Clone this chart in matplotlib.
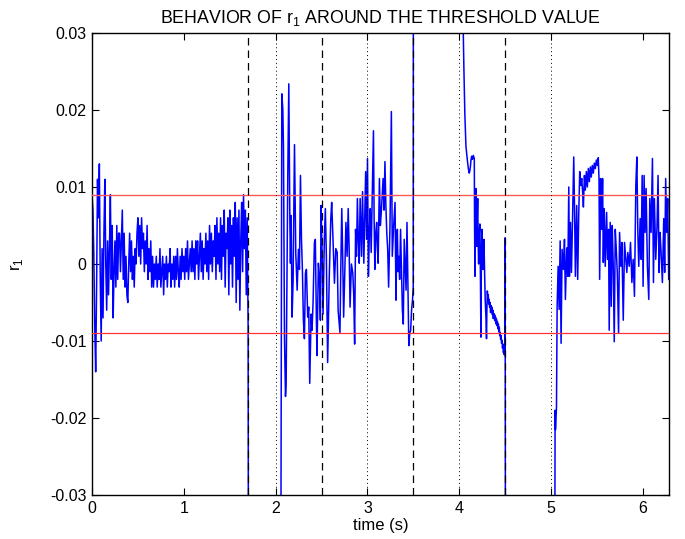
import numpy as np
import matplotlib
matplotlib.use("Agg")
import matplotlib.pyplot as plt

# ---------------- data (r1 values in units of 1e-3) ----------------
# segment A: 0 .. 1.70 s, sampled every 0.01 s
t_a = np.round(np.arange(0.0, 1.701, 0.01), 3).tolist() + [1.705]
r_a = [9, 7, 1, -8, -14, -3, 11, 6, 13, -2,
       -10, 2, -7, 4, 11, 0, -6, 3, -4, 2,
       9, -2, 5, -7, -1, 3, -3, 5, -2, 4,
       4, -1, 3, 7, -2, 4, -3, 1, -4, -5,
       0, 4, -1, 3, -2, 1, -3, 2, 0, 4,
       6, 1, 5, 0, 6, 2, 4, -1, 3, 0,
       5, -2, 2, -1, 3, -3, 1, -3, 0, -2,
       1, -3, 0, -2, 2, -3, -1, 1, -4, 0,
       -2, 1, -3, 0, -1, 2, -3, 0, -2, 1,
       -3, 1, -2, 2, -1, -3, 1, -2, 2, -1,
       1, -2, 2, -1, 3, -2, 0, 2, -1, 3,
       -1, 2, -2, 3, 0, 3, -2, 1, 4, -1,
       3, -2, 2, 0, 4, -1, 3, -2, 5, 0,
       4, -1, 3, 1, 5, -2, 6, 0, 4, -1,
       6, -2, 5, 1, 7, -3, 4, 2, 6, -4,
       7, 0, 5, -3, 6, 1, 8, -5, 6, -2,
       7, -6, 3, 8, -1, 9, 2, 7, -4, 6,
       -8, -60]

# segment B: 2.05 .. 3.50 s
t_b = [2.053, 2.067, 2.078, 2.085, 2.096, 2.107, 2.114, 2.132, 2.143, 2.154,
       2.161, 2.168, 2.179, 2.19, 2.205, 2.219, 2.234, 2.248, 2.259, 2.27,
       2.281, 2.291, 2.302, 2.313, 2.324, 2.335, 2.349, 2.36, 2.371, 2.386,
       2.396, 2.407, 2.422, 2.432, 2.443, 2.45, 2.465, 2.476, 2.487, 2.494,
       2.505, 2.516, 2.53, 2.541, 2.552, 2.566, 2.583, 2.60, 2.61, 2.625,
       2.64, 2.655, 2.67, 2.68, 2.70, 2.71, 2.72, 2.73, 2.74, 2.753,
       2.765, 2.778, 2.79, 2.80, 2.81, 2.825, 2.84, 2.85, 2.86, 2.87,
       2.88, 2.89, 2.90, 2.91, 2.92, 2.935, 2.946, 2.955, 2.96, 2.97,
       2.98, 2.99, 3.0, 3.01, 3.02, 3.03, 3.04, 3.05, 3.065, 3.072,
       3.08, 3.09, 3.10, 3.108, 3.116, 3.123, 3.13, 3.14, 3.15, 3.16,
       3.17, 3.18, 3.19, 3.20, 3.21, 3.22, 3.23, 3.245, 3.26, 3.27,
       3.285, 3.30, 3.31, 3.318, 3.325, 3.333, 3.34, 3.35, 3.36, 3.37,
       3.38, 3.39, 3.40, 3.41, 3.42, 3.43, 3.44, 3.45, 3.46, 3.47,
       3.48, 3.49, 3.498, 3.50]
r_b = [-60, 22.1, 20.1, 15.1, -9.5, -17.2, -15.5, 11.5, 23.4, 6.3,
       0.1, 6.3, -6.9, -2.1, 15.5, 1.4, -3.4, 1.9, -0.7, 11.5,
       3.2, -0.7, -7.3, -9.7, -1.2, -0.7, -6.9, -5.6, -15.5, -6.5,
       -8.6, -5.1, 2.8, 3.2, -6.9, -11.9, 0.1, -1.6, -7.3, 7.6,
       1.9, -6.5, 3.2, 7.2, 1.0, -12.8, -2, 5.8, 8.0, 3,
       -2.5, 2, 1.5, -6, -8.9, 0, 7.2, 1, -6.9, -1,
       5.4, 1, 7.2, 2, -5.6, 0, -1.2, -4, -10.4, 4.5,
       1, 8.5, 3, 0.1, 8.5, 1, 9.4, 3, 0.1, 6,
       12, 3.2, 13.7, -1.6, 4, 7.2, 1.5, 8, 17.3, 6,
       -0.7, 4, 5.4, 2, 0.1, 6, 11.1, 5, 6.7, 9,
       11.1, 7, 13.3, 7.6, 4, 1.9, -3, 5, 19.8, 1,
       5, 8, -4.7, 2, 4.5, -1, 1, -2, 4.5, -1,
       -6, -7.8, 3.2, 0, -3.4, 5.4, -3, -10.6, -9, -8.6,
       -6, -4.7, -3, 60]

# segment C: 4.04 .. 4.50 s
t_c = [4.035, 4.043, 4.05, 4.06, 4.072, 4.083, 4.09, 4.098, 4.108, 4.114,
       4.12, 4.127, 4.134, 4.143, 4.152, 4.163, 4.166, 4.17, 4.175, 4.18,
       4.186, 4.19, 4.195, 4.20, 4.205, 4.21, 4.217, 4.224, 4.23, 4.235,
       4.24, 4.246, 4.252, 4.257, 4.262, 4.268, 4.275, 4.282, 4.29, 4.296,
       4.30, 4.305, 4.31, 4.315, 4.32, 4.325, 4.33, 4.335, 4.34, 4.345,
       4.35, 4.355, 4.36, 4.365, 4.37, 4.375, 4.38, 4.385, 4.39, 4.395,
       4.40, 4.405, 4.41, 4.415, 4.42, 4.425, 4.43, 4.435, 4.44, 4.445,
       4.45, 4.455, 4.46, 4.465, 4.47, 4.475, 4.48, 4.485, 4.49, 4.495,
       4.499, 4.503]
r_c = [60, 30, 25.2, 19.5, 15.3, 14.0, 13.2, 12.4, 11.8, 12.1,
       12.6, 13.5, 14.0, 13.6, 14.1, 13.7, 5, -1.6, 4, 9.8,
       6, 2.3, 6, 8.5, 3, 0.0, 4, 5.2, -2, -9.5,
       0, 4.5, 1, -0.7, 2, 3.2, -1, -4.7, -7, -9.7,
       -6, -3.5, -4.3, -4.0, -5.2, -4.6, -5.6, -5.0, -6.3, -5.4,
       -6.1, -5.6, -6.6, -6.0, -7.1, -6.4, -7.0, -6.6, -7.4, -6.9,
       -7.8, -7.2, -8.0, -7.5, -8.4, -7.8, -8.8, -8.2, -9.3, -8.9,
       -9.8, -9.3, -10.3, -9.9, -10.9, -10.4, -11.5, -11.0, -11.8, -10,
       3.4, -60]

# segment D: 5.04 .. 2*pi s
t_d = [5.036, 5.043, 5.047, 5.058, 5.065, 5.076, 5.087, 5.098, 5.108, 5.119,
       5.134, 5.145, 5.155, 5.17, 5.181, 5.192, 5.199, 5.21, 5.221, 5.235,
       5.246, 5.257, 5.264, 5.278, 5.289, 5.30, 5.311, 5.322, 5.333, 5.343,
       5.351, 5.362, 5.372, 5.383, 5.394, 5.405, 5.416, 5.427, 5.437, 5.448,
       5.459, 5.47, 5.481, 5.492, 5.503, 5.513, 5.521, 5.528, 5.539, 5.55,
       5.56, 5.568, 5.578, 5.589, 5.604, 5.614, 5.625, 5.632, 5.643, 5.654,
       5.665, 5.676, 5.687, 5.698, 5.709, 5.72, 5.734, 5.745, 5.759, 5.77,
       5.785, 5.799, 5.813, 5.824, 5.835, 5.85, 5.864, 5.879, 5.893, 5.907,
       5.922, 5.933, 5.944, 5.954, 5.969, 5.98, 5.991, 6.001, 6.012, 6.023,
       6.034, 6.048, 6.063, 6.074, 6.088, 6.103, 6.114, 6.124, 6.139, 6.153,
       6.164, 6.175, 6.186, 6.197, 6.211, 6.226, 6.236, 6.247, 6.258, 6.269,
       6.28]
r_d = [-60, -19.0, -21.5, -18.6, -5.5, -0.3, -5.9, 3.0, -10.3, 1.9,
       -0.7, 3.2, -4.6, 2.1, -1.6, 10.0, -1.6, 5.4, -1.1, 7.2,
       13.9, 5.0, -1.6, 7.6, -2.0, 6.3, 12.0, 10.2, 11.1, 9.3,
       7.4, 11.5, 9.6, 12.0, 10.0, 12.4, 10.7, 12.6, 11.3, 12.8,
       11.8, 13.1, 12.4, 13.5, 12.8, 13.8, 11.1, -2.0, 11.1, 4.5,
       11.1, 0.2, 7.2, -0.3, 6.7, 0.6, 4.5, -8.6, 5.4, -5.5,
       5.0, -0.3, -10.1, 4.5, 1.9, -1.1, -9.0, 4.1, -0.3, 2.8,
       -7.3, 2.8, 0.6, -1.1, 1.5, -0.3, 2.8, -2.4, 0.6, -4.2,
       10.2, 13.9, 4.1, -0.3, 5.9, 0.6, 11.5, -2.9, 11.5, 4.1,
       9.8, -0.3, -4.6, 8.5, 4.1, 13.7, -2.4, 8.5, 0.6, 5.0,
       11.5, -1.1, 4.1, 1.5, -2.4, 5.9, -1.1, 11.1, 4.1, 8.5,
       -2.0]

threshold = 0.009
dashed_times = [1.7, 2.5, 3.5, 4.5]
dotted_times = [2.0, 3.0, 4.0, 5.0]
x_ticks = [0, 1, 2, 3, 4, 5, 6]
y_ticks = [-0.03, -0.02, -0.01, 0, 0.01, 0.02, 0.03]
y_tick_labels = ["-0.03", "-0.02", "-0.01", "0", "0.01", "0.02", "0.03"]

# ---------------- figure ----------------
plt.rcParams['font.family'] = ['Liberation Sans', 'DejaVu Sans']
fig = plt.figure(figsize=(6.85, 5.39), dpi=100)
ax = fig.add_axes([92/685, 1-495/539, 577/685, 462/539])

for t, r in [(t_a, r_a), (t_b, r_b), (t_c, r_c), (t_d, r_d)]:
    ax.plot(t, np.array(r) * 1e-3, color=(0, 0, 1), lw=1.1, zorder=2)

ax.axhline(threshold, color=(1, 0.35, 0.35), lw=1.0, zorder=3)
ax.axhline(-threshold, color=(1, 0.2, 0.2), lw=0.9, zorder=3)
for xt in dashed_times:
    ax.axvline(xt, color='black', lw=0.9, ls=(0, (6, 4)), zorder=4)
for xt in dotted_times:
    ax.axvline(xt, color='black', lw=0.7, ls=(0, (1, 3)), zorder=4)

ax.set_xlim(0, 2*np.pi)
ax.set_ylim(-0.03, 0.03)
ax.set_xticks(x_ticks)
ax.set_yticks(y_ticks)
ax.set_yticklabels(y_tick_labels)
ax.tick_params(direction='in', top=True, right=True, length=5, width=0.8,
               labelsize=11.5, pad=4)
for s in ax.spines.values():
    s.set_linewidth(1.0)

ax.set_title(r"BEHAVIOR OF r$_\mathregular{1}$ AROUND THE THRESHOLD VALUE",
             fontsize=12.8, pad=7)
ax.set_xlabel("time (s)", fontsize=12, labelpad=2)
ax.set_ylabel(r"r$_\mathregular{1}$", fontsize=12, labelpad=18)

fig.savefig("out.png", dpi=100)
